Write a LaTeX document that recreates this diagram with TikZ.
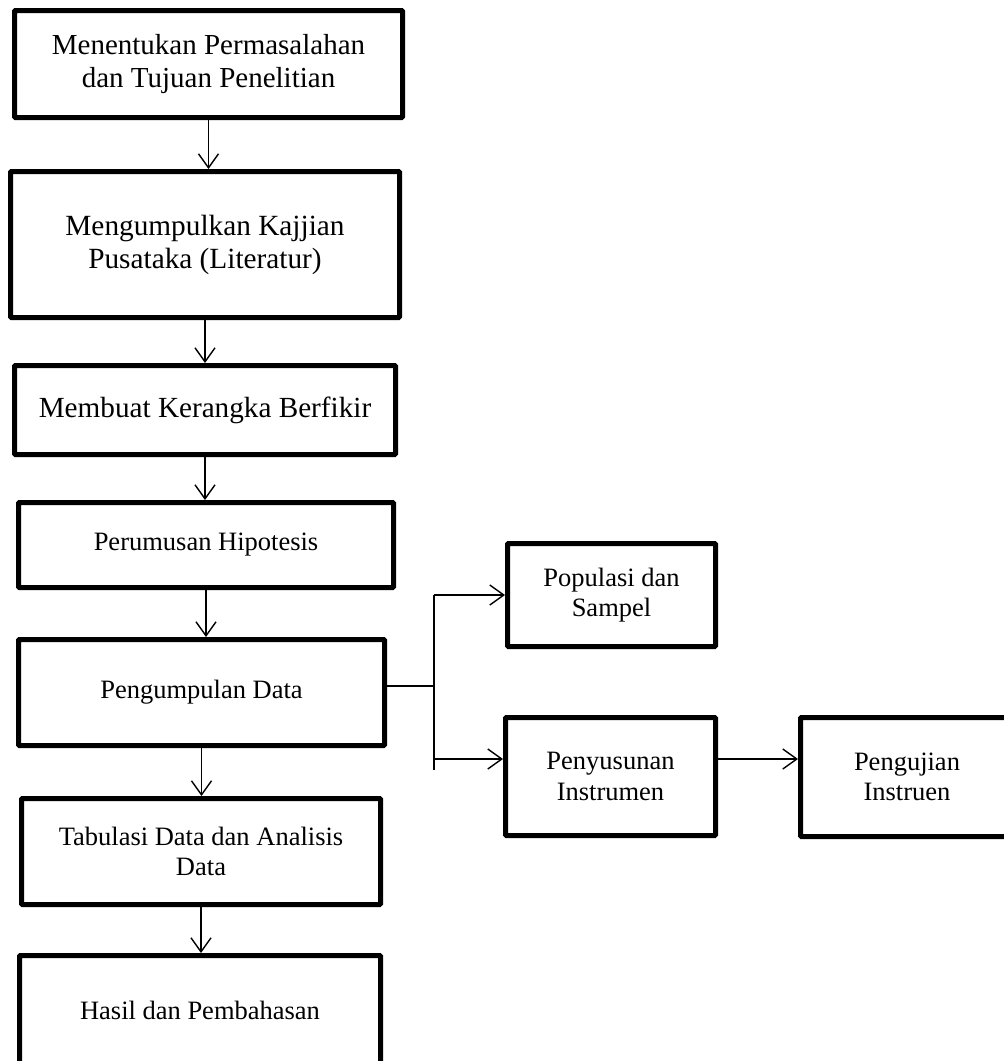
\documentclass[tikz,border=0pt]{standalone}
\usepackage{fontspec}
\setmainfont{Liberation Serif}
\usetikzlibrary{arrows.meta}
\usetikzlibrary{positioning}

\begin{document}
\begin{tikzpicture}[x=1pt,y=-1pt]
			\useasboundingbox (0,0) rectangle (1004,1061);
			\clip (0,0) rectangle (1004,1061);
			\begin{scope}[every node/.style={draw,line width=5pt,rounded corners=1pt,align=center,inner sep=0pt,font=\fontsize{26.5}{30.5}\selectfont}]
    \node[minimum width=388,minimum height=107,font=\fontsize{29}{33}\selectfont] (tujuan) at (208.5,64) {Menentukan Permasalahan\\dan Tujuan Penelitian};
    \node[minimum width=389,minimum height=146,font=\fontsize{29.3}{33}\selectfont] (pustaka) at (205,244.5) {Mengumpulkan Kajjian\\Pusataka (Literatur)};
    \node[minimum width=381,minimum height=89,font=\fontsize{29.2}{33}\selectfont] (kerangka) at (205,410) {Membuat Kerangka Berfikir};
    \node[minimum width=375,minimum height=85] (hipotesis) at (206,545) {Perumusan Hipotesis};
    \node[minimum width=366,minimum height=106] (data) at (201.5,692.5) {Pengumpulan Data};
    \node[minimum width=359,minimum height=106] (analisis) at (201,851.5) {Tabulasi Data dan Analisis\\Data};
    \node[minimum width=361,minimum height=109] (hasil) at (200,1010) {Hasil dan Pembahasan};
    \node[minimum width=208,minimum height=103] (populasi) at (611.5,595) {Populasi dan\\Sampel};
    \node[minimum width=210,minimum height=118] (instrumen) at (610.5,776.5) {Penyusunan\\Instrumen};
    \node[minimum width=213,minimum height=119] (uji) at (907,777) {Pengujian\\Instruen};
			\end{scope}
    \coordinate (split) at (434,686);
    \coordinate (up) at (434,595);
    \coordinate (low) at (434,759);
    \coordinate (end) at (434,770);
			\begin{scope}[>={Straight Barb[length=14pt,width=20pt]},
              line width=1.4pt]
    \draw [->] (tujuan.south) -- (tujuan.south |- pustaka.north);
    \draw [->] (pustaka.south) -- (pustaka.south |- kerangka.north);
    \draw [->] (kerangka.south) -- (kerangka.south |- hipotesis.north);
    \draw [->] (hipotesis.south) -- (hipotesis.south |- data.north);
    \draw [->] (data.south) -- (data.south |- analisis.north);
    \draw [->] (analisis.south) -- (analisis.south |- hasil.north);
    \draw (data.east |- split) -- (split);
    \draw (up) -- (end);
    \draw [->] (up) -- (up -| populasi.west);
    \draw [->] (low) -- (low -| instrumen.west);
    \draw [->] (instrumen.east |- low) -- (uji.west |- low);
			\end{scope}
		\end{tikzpicture}
\end{document}
